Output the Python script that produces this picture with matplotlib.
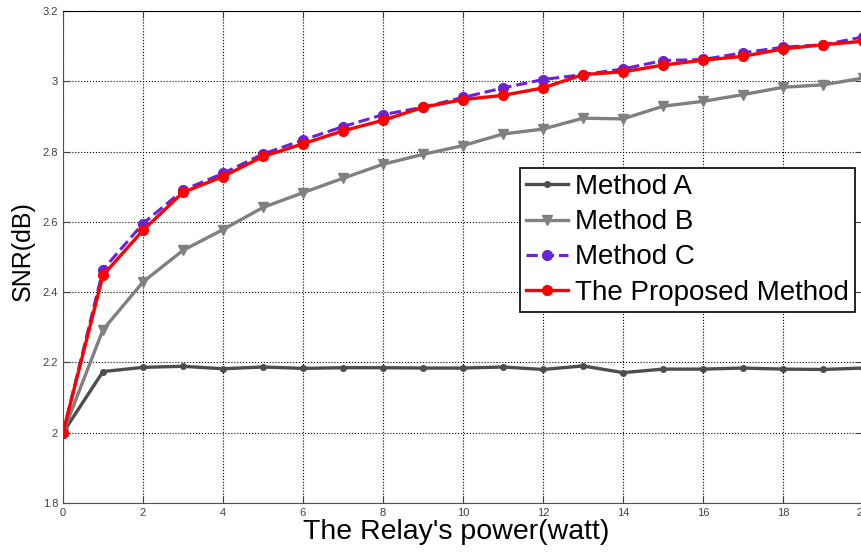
import numpy as np
import matplotlib
matplotlib.use("Agg")
import matplotlib.pyplot as plt

# ---- data ----
power = list(range(0, 21))
method_a = [2.000, 2.174, 2.186, 2.189, 2.182, 2.187, 2.183, 2.185, 2.185, 2.184, 2.184,
            2.187, 2.180, 2.190, 2.171, 2.181, 2.181, 2.184, 2.181, 2.180, 2.184]
method_b = [2.000, 2.293, 2.429, 2.519, 2.578, 2.641, 2.683, 2.724, 2.764, 2.792, 2.817,
            2.850, 2.864, 2.895, 2.893, 2.929, 2.943, 2.962, 2.983, 2.990, 3.009]
method_c = [2.000, 2.464, 2.595, 2.690, 2.738, 2.793, 2.833, 2.871, 2.905, 2.926, 2.954,
            2.981, 3.005, 3.019, 3.035, 3.059, 3.062, 3.081, 3.097, 3.104, 3.126]
proposed = [2.000, 2.448, 2.576, 2.684, 2.729, 2.786, 2.822, 2.859, 2.889, 2.926, 2.948,
            2.960, 2.981, 3.019, 3.027, 3.046, 3.060, 3.071, 3.092, 3.104, 3.114]

labels = ['Method A', 'Method B', 'Method C', 'The Proposed Method']

plt.rcParams['font.family'] = ['Liberation Sans', 'DejaVu Sans']

fig = plt.figure(figsize=(8.62, 5.56), dpi=100)
ax = fig.add_axes([63 / 862, 53 / 556, 800 / 862, 492 / 556])

ax.plot(power, method_a, color='#4d4d4d', lw=2.4, marker='.', ms=8, label=labels[0], zorder=3)
ax.plot(power, method_b, color='#808080', lw=2.4, marker='v', ms=7, label=labels[1], zorder=3)
ax.plot(power, method_c, color='#6a22d8', lw=2.2, ls='--', marker='o', ms=7, label=labels[2], zorder=4)
ax.plot(power, proposed, color='#ff0000', lw=2.4, marker='o', ms=7, label=labels[3], zorder=5)

ax.set_xlim(0, 20)
ax.set_ylim(1.8, 3.2)
ax.set_xticks(range(0, 21, 2))
ax.set_yticks([1.8, 2.0, 2.2, 2.4, 2.6, 2.8, 3.0, 3.2])
ax.set_yticklabels(['1.8', '2', '2.2', '2.4', '2.6', '2.8', '3', '3.2'])
ax.grid(True, ls=':', color='black', lw=0.8)
ax.tick_params(direction='in', top=True, right=True, labelsize=8, labelcolor='#404040',
               color='#404040', length=5)
for s in ['left', 'bottom']:
    ax.spines[s].set_color('#505050')

ax.set_xlabel("The Relay's power(watt)", fontsize=20.5)
ax.xaxis.set_label_coords(0.4915, -0.033)
ax.set_ylabel('SNR(dB)', fontsize=18)
ax.yaxis.set_label_coords(-0.035, 0.512)

leg = ax.legend(loc='upper right', bbox_to_anchor=(855 / 862, 1 - 168 / 556),
                bbox_transform=fig.transFigure, fontsize=20, fancybox=False,
                edgecolor='black', framealpha=1, labelspacing=0.33, handlelength=1.5,
                handletextpad=0.25, borderpad=0.22, borderaxespad=0)
leg.get_frame().set_linewidth(1.2)

fig.savefig('out.png', dpi=100)
